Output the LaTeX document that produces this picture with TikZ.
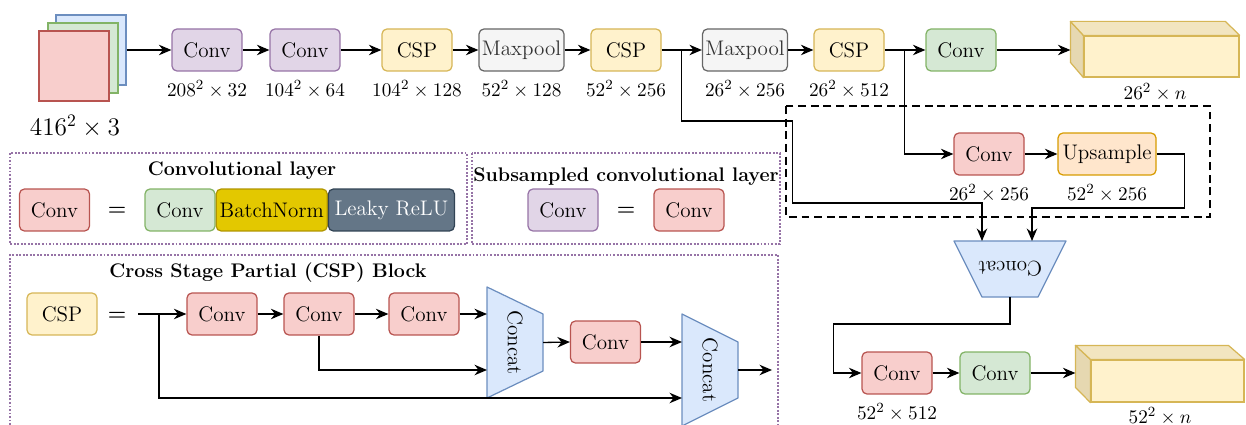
\documentclass[tikz,border=0pt]{standalone}
\usepackage{amsmath}
\usetikzlibrary{arrows.meta,positioning,calc}
\definecolor{cred}{HTML}{F8CECC}
\definecolor{credD}{HTML}{B85450}
\definecolor{cpur}{HTML}{E1D5E7}
\definecolor{cpurD}{HTML}{9673A6}
\definecolor{cyel}{HTML}{FFF2CC}
\definecolor{cyelD}{HTML}{D6B656}
\definecolor{cyelT}{HTML}{F2E5C0}
\definecolor{cyelS}{HTML}{E6D8B1}
\definecolor{cgray}{HTML}{F5F5F5}
\definecolor{cgrayD}{HTML}{666666}
\definecolor{cgrn}{HTML}{D5E8D4}
\definecolor{cgrnD}{HTML}{82B366}
\definecolor{cblu}{HTML}{DAE8FC}
\definecolor{cbluD}{HTML}{6C8EBF}
\definecolor{corg}{HTML}{FFE6CC}
\definecolor{corgD}{HTML}{D79B00}
\definecolor{cbn}{HTML}{E3C800}
\definecolor{cbnD}{HTML}{B09500}
\definecolor{cleak}{HTML}{647687}
\definecolor{cleakD}{HTML}{314354}
\tikzset{
  fbox/.style={draw, rounded corners=2.8pt, align=center, inner sep=0pt,
               minimum width=1.4cm, minimum height=0.84cm, line width=0.7pt, font=\large},
  nred/.style={fbox, fill=cred, draw=credD},
  npur/.style={fbox, fill=cpur, draw=cpurD},
  nyel/.style={fbox, fill=cyel, draw=cyelD},
  ngray/.style={fbox, fill=cgray, draw=cgrayD, text=black!80, minimum width=1.7cm},
  ngrn/.style={fbox, fill=cgrn, draw=cgrnD},
  norg/.style={fbox, fill=corg, draw=corgD, minimum width=1.96cm},
  nbn/.style={fbox, fill=cbn, draw=cbnD, minimum width=2.22cm},
  nleak/.style={fbox, fill=cleak, draw=cleakD, text=white, minimum width=2.52cm},
  catbox/.style={draw=cbluD, fill=cblu, line width=0.7pt, line join=round},
  cattxt/.style={font=\large, inner sep=0pt},
  inbox/.style={draw, line width=0.7pt, minimum size=1.4cm, inner sep=0pt},
  cube/.style={draw=cyelD, fill=cyel, line width=0.7pt, inner sep=0pt},
  cubeside/.style={draw=cyelD, line width=0.7pt, line join=round},
  dim/.style={font=\fontsize{11}{13}\selectfont, inner sep=1pt},
  eqs/.style={font=\large\bfseries, inner sep=0pt},
  ttl/.style={font=\fontsize{11.2}{13}\selectfont\bfseries, inner sep=0pt},
  legend/.style={draw=cpurD, line width=1.3pt, dash pattern=on 1.1pt off 0.9pt},
  hilite/.style={draw=black, line width=1.3pt, dash pattern=on 4.5pt off 2.7pt},
  flow/.style={-{Stealth[length=2.5mm, width=2.1mm]}, line width=0.75pt},
}
\begin{document}
\begin{tikzpicture}[x=0.02cm, y=-0.02cm]
  \useasboundingbox (0,0) rectangle (1246,425);
  % input image
  \node[inbox, fill=cblu, draw=cbluD] (inB) at (91,50) {};
  \node[inbox, fill=cgrn, draw=cgrnD] (inG) at (83,58) {};
  \node[inbox, fill=cred, draw=credD] (inR) at (74,66) {};
  \node[dim, font=\Large] (inL) at (75,126) {$416^2\times 3$};
  % backbone
  \node[npur] (c1) at (207,50) {Conv};
  \node[npur] (c2) at (305,50) {Conv};
  \node[nyel] (csp1) at (417,50) {CSP};
  \node[ngray] (mp1) at (521.5,50) {Maxpool};
  \node[nyel] (csp2) at (626,50) {CSP};
  \node[ngray] (mp2) at (745,50) {Maxpool};
  \node[nyel] (csp3) at (849,50) {CSP};
  \node[ngrn] (g1) at (961,50) {Conv};
  \node[dim, below=1.4mm of c1] {$208^2\times 32$};
  \node[dim, below=1.4mm of c2] {$104^2\times 64$};
  \node[dim, below=1.4mm of csp1] {$104^2\times 128$};
  \node[dim, below=1.4mm of mp1] {$52^2\times 128$};
  \node[dim, below=1.4mm of csp2] {$52^2\times 256$};
  \node[dim, below=1.4mm of mp2] {$26^2\times 256$};
  \node[dim, below=1.4mm of csp3] {$26^2\times 512$};
  % output 1
  \node[cube, minimum width=3.1cm, minimum height=0.82cm] (o1) at (1161.5,56.5) {};
  \draw[cubeside, fill=cyelS] (o1.north west) -- ++(-13,-14) -- ++(0,41) -- (o1.south west) -- cycle;
  \draw[cubeside, fill=cyelT] (o1.north west) -- ++(-13,-14) -- ++(155,0) -- (o1.north east) -- cycle;
  \coordinate (o1in) at ($(o1.west)+(-13,-6.5)$);
  \node[dim] at (1155,92) {$26^2\times n$};
  \draw[flow] (inB.east) -- (c1.west);
  \draw[flow] (c1) -- (c2);
  \draw[flow] (c2) -- (csp1);
  \draw[flow] (csp1) -- (mp1);
  \draw[flow] (mp1) -- (csp2);
  \draw[flow] (csp2) -- (mp2);
  \draw[flow] (mp2) -- (csp3);
  \draw[flow] (csp3) -- (g1);
  \draw[flow] (g1) -- (o1in);
  % upsampling branch
  \draw[hilite] (786,106) rectangle (1210,217);
  \node[nred] (c5) at (989,154) {Conv};
  \node[norg] (up) at (1107,154) {Upsample};
  \node[dim, below=1.4mm of c5] {$26^2\times 256$};
  \node[dim, below=1.4mm of up] {$52^2\times 256$};
  \coordinate (cat3) at (1010,269);
  \draw[catbox] ($(cat3)+(-56,-28)$) -- ++(112,0) -- ++(-28,56) -- ++(-56,0) -- cycle;
  \node[cattxt, rotate=180] (cat3t) at (cat3) {Concat};
  \coordinate (cat3n) at ($(cat3)+(0,-28)$);
  \coordinate (cat3s) at ($(cat3)+(0,28)$);
  \coordinate (cin1) at ($(cat3n)+(-28,0)$);
  \coordinate (cin2) at ($(cat3n)+(22,0)$);
  \coordinate (j1) at ($(csp2.east)+(20,0)$);
  \coordinate (j2) at ($(csp3.east)+(20,0)$);
  \draw[flow] (j1) -- ++(0,71) -- ++(111,0) -- ++(0,82) -| (cin1);
  \draw[flow] (j2) |- (c5);
  \draw[flow] (c5) -- (up);
  \draw[flow] (up.east) -- ++(28,0) -- ++(0,54) -| (cin2);
  % output 2
  \node[nred] (c7) at (897,373) {Conv};
  \node[ngrn] (g2) at (995,373) {Conv};
  \node[dim, below=1.4mm of c7] {$52^2\times 512$};
  \node[cube, minimum width=3.06cm, minimum height=0.84cm] (o2) at (1167.5,381) {};
  \draw[cubeside, fill=cyelS] (o2.north west) -- ++(-15,-14) -- ++(0,42) -- (o2.south west) -- cycle;
  \draw[cubeside, fill=cyelT] (o2.north west) -- ++(-15,-14) -- ++(153,0) -- (o2.north east) -- cycle;
  \coordinate (o2in) at ($(o2.west)+(-15,-8)$);
  \node[dim] at (1160,416) {$52^2\times n$};
  \draw[flow] (cat3s) -- ++(0,27) -| ($(c7.west)+(-28,0)$) -- (c7.west);
  \draw[flow] (c7) -- (g2);
  \draw[flow] (g2) -- (o2in);
  % legend: convolutional layer
  \draw[legend] (10,153) rectangle (467,244);
  \node[ttl] at (242,171) {Convolutional layer};
  \node[nred] (lc) at (54.5,210) {Conv};
  \node[eqs] at (117,211) {=};
  \node[ngrn] (lg) at (180,210) {Conv};
  \node[nbn, right=0pt of lg] (lb) {BatchNorm};
  \node[nleak, right=0pt of lb] (ll) {Leaky ReLU};
  % legend: subsampled layer
  \draw[legend] (472,153) rectangle (780,244);
  \node[ttl] at (626,177) {Subsampled convolutional layer};
  \node[npur] (sp) at (563,210) {Conv};
  \node[eqs] at (626,211) {=};
  \node[nred] (sr) at (689,210) {Conv};
  % legend: CSP block
  \draw[legend] (10,425) -- (10,255) -- (778,255) -- (778,425);
  \node[ttl] at (268,273) {Cross Stage Partial (CSP) Block};
  \node[nyel] (kc) at (62,314) {CSP};
  \node[eqs] at (117,316) {=};
  \node[nred] (ka) at (222,314) {Conv};
  \node[nred] (kb) at (319,314) {Conv};
  \node[nred] (kd) at (424,314) {Conv};
  \coordinate (cat1) at (515,342.5);
  \draw[catbox] ($(cat1)+(-28,-55.5)$) -- ++(56,27) -- ++(0,57) -- ++(-56,27) -- cycle;
  \node[cattxt, rotate=-90] (cat1t) at (cat1) {Concat};
  \coordinate (cat1w) at ($(cat1)+(-28,0)$);
  \coordinate (cat1e) at ($(cat1)+(28,0)$);
  \node[nred] (ke) at (605.5,342) {Conv};
  \coordinate (cat2) at (710,370);
  \draw[catbox] ($(cat2)+(-28,-56)$) -- ++(56,28) -- ++(0,56) -- ++(-56,28) -- cycle;
  \node[cattxt, rotate=-90] (cat2t) at (cat2) {Concat};
  \coordinate (cat2w) at ($(cat2)+(-28,0)$);
  \coordinate (cat2e) at ($(cat2)+(28,0)$);
  \coordinate (s0) at (138,314);
  \coordinate (j3) at (159,314);
  \coordinate (s1) at (772,370);
  \draw[flow] (s0) -- (ka.west);
  \draw[flow] (ka) -- (kb);
  \draw[flow] (kb) -- (kd);
  \draw[flow] (kd.east) -- (kd.east -| cat1w);
  \draw[flow] (kb.south) |- ($(cat1w)+(0,27.5)$);
  \draw[flow] (j3) |- ($(cat2w)+(0,28)$);
  \draw[flow] (cat1e) -- (ke.west);
  \draw[flow] (ke.east) -- (ke.east -| cat2w);
  \draw[flow] (cat2e) -- (s1);
\end{tikzpicture}
\end{document}
